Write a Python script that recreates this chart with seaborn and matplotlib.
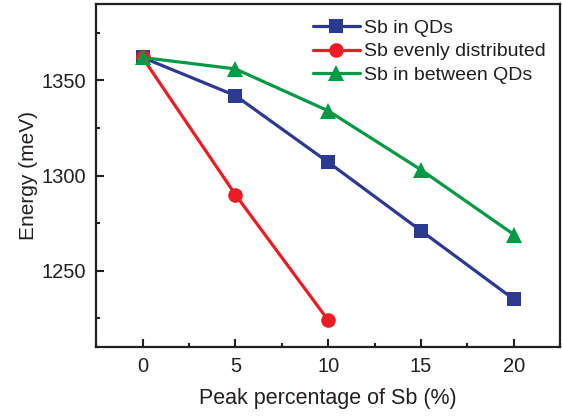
import pandas as pd
import matplotlib
matplotlib.use("Agg")
import matplotlib.pyplot as plt
import seaborn as sns
from matplotlib.ticker import MultipleLocator

# Daten
sb_qd_x = [0, 5, 10, 15, 20]
sb_qd_y = [1362, 1342, 1307, 1271, 1235]
sb_even_x = [0, 5, 10]
sb_even_y = [1362, 1290, 1224]
sb_between_x = [0, 5, 10, 15, 20]
sb_between_y = [1362, 1356, 1334, 1303, 1269]

labels = ["Sb in QDs", "Sb evenly distributed", "Sb in between QDs"]
colors = ["#2b3990", "#ed1c24", "#009a44"]
markers = ["s", "o", "^"]
msizes = [9.5, 10.5, 12]

df = pd.concat([
    pd.DataFrame({"x": sb_qd_x, "y": sb_qd_y, "series": labels[0]}),
    pd.DataFrame({"x": sb_even_x, "y": sb_even_y, "series": labels[1]}),
    pd.DataFrame({"x": sb_between_x, "y": sb_between_y, "series": labels[2]}),
])

sns.set_style("ticks")
plt.rcParams["font.family"] = ["Liberation Sans", "DejaVu Sans"]

fig = plt.figure(figsize=(5.62, 4.16), dpi=100)
ax = fig.add_axes([0.171, 0.166, 0.826, 0.824])

for lab, col, mk, ms in zip(labels, colors, markers, msizes):
    sns.lineplot(data=df[df["series"] == lab], x="x", y="y", color=col, marker=mk,
                 markersize=ms, markeredgewidth=0, linewidth=2.3, label=lab, ax=ax)

ax.set_xlim(-2.5, 22.5)
ax.set_ylim(1210, 1390)
ax.xaxis.set_major_locator(MultipleLocator(5))
ax.xaxis.set_minor_locator(MultipleLocator(2.5))
ax.yaxis.set_major_locator(MultipleLocator(50))
ax.yaxis.set_minor_locator(MultipleLocator(25))
ax.tick_params(which="both", direction="in", width=1.5, colors="#231f20", labelsize=14.5)
ax.tick_params(which="major", length=6, pad=7)
ax.tick_params(which="minor", length=3)
for sp in ax.spines.values():
    sp.set_linewidth(1.6)
    sp.set_color("#231f20")
    sp.set_visible(True)

ax.set_xlabel("Peak percentage of Sb (%)", fontsize=15.5, color="#231f20", labelpad=9)
ax.set_ylabel("Energy (meV)", fontsize=15, color="#231f20", labelpad=3)

leg = ax.legend(loc="upper right", frameon=False, fontsize=14, handlelength=2.4,
                handletextpad=0.2, labelspacing=0.3, borderaxespad=0.2,
                bbox_to_anchor=(0.993, 0.99))
for t in leg.get_texts():
    t.set_color("#231f20")

fig.savefig("out.png", dpi=100)
